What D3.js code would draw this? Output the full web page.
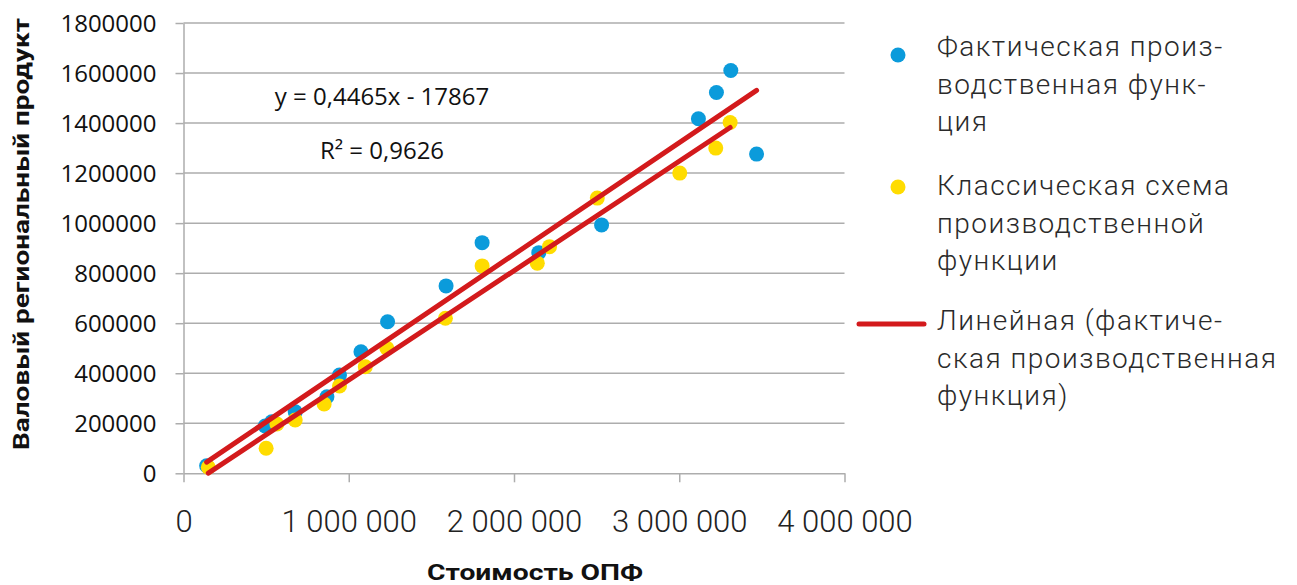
<!DOCTYPE html>
<html>
<head>
<meta charset="utf-8">
<script src="https://cdn.jsdelivr.net/npm/d3@7"></script>
<style>
  html, body { margin: 0; padding: 0; background: #fff; }
  svg { display: block; }
</style>
</head>
<body>
<svg id="chart" width="1297" height="585"></svg>
<script>
// Axis ticks
const xTickValues = [0, 1000000, 2000000, 3000000, 4000000];
const xTickLabels = ["0", "1 000 000", "2 000 000", "3 000 000", "4 000 000"];
const yTickValues = [0, 200000, 400000, 600000, 800000, 1000000, 1200000, 1400000, 1600000, 1800000];

// Фактическая производственная функция: стоимость ОПФ и ВРП
const factX = [140000, 494000, 534000, 676000, 868000, 944000, 1074000, 1235000,
               1589000, 1807000, 2150000, 2530000, 3116000, 3225000, 3312000, 3468000];
const factY = [30000, 189000, 206000, 246000, 306000, 393000, 486000, 606000,
               749000, 922000, 882000, 993000, 1417000, 1522000, 1610000, 1276000];

// Классическая схема производственной функции
const classicX = [150000, 500000, 565000, 676000, 851000, 944000, 1100000, 1231000,
                  1585000, 1807000, 2141000, 2215000, 2504000, 3003000, 3221000, 3308000];
const classicY = [24000, 100000, 197000, 213000, 277000, 349000, 426000, 500000,
                  620000, 829000, 840000, 906000, 1100000, 1200000, 1300000, 1402000];

// Linear trends: [slope, intercept]
const factTrend = [0.4465, -17867];
const classicTrend = [0.4375, -65000];

const equationText = "y = 0,4465x - 17867";
const r2Text = "R² = 0,9626";

const legendLabels = [
  ["Фактическая произ-", "водственная функ-", "ция"],
  ["Классическая схема", "производственной", "функции"],
  ["Линейная (фактиче-", "ская производственная", "функция)"]
];

const BLUE = "#0B9BDB", YELLOW = "#FFDC00", RED = "#D31A1C", GRID = "#ADADAD";
const lightFont = "Roboto, 'Open Sans', sans-serif";
const plainFont = "'Open Sans', 'Noto Sans', sans-serif";

const svg = d3.select("#chart");
svg.append("rect").attr("width", 1297).attr("height", 585).attr("fill", "#fff");

const x = d3.scaleLinear().domain([0, 4000000]).range([183.5, 844.5]);
const y = d3.scaleLinear().domain([0, 1800000]).range([473.3, 23]);

// Horizontal gridlines
svg.append("g").selectAll("line")
  .data(yTickValues.filter(d => d > 0))
  .join("line")
  .attr("x1", x(0)).attr("x2", x(4000000))
  .attr("y1", d => y(d)).attr("y2", d => y(d))
  .attr("stroke", GRID).attr("stroke-width", 1.5);

// Y axis
const yAxis = svg.append("g")
  .attr("transform", `translate(${x(0)},0)`)
  .call(d3.axisLeft(y).tickValues(yTickValues).tickFormat(d3.format("d"))
        .tickSize(8).tickPadding(19).tickSizeOuter(0));
yAxis.select(".domain").attr("stroke", GRID).attr("stroke-width", 1.5);
yAxis.selectAll(".tick line").attr("stroke", GRID).attr("stroke-width", 1.5);
yAxis.selectAll(".tick text")
  .attr("font-family", plainFont).attr("font-size", 24).attr("fill", "#111")
  .attr("dy", "0.36em");

// X axis
const xAxis = svg.append("g")
  .attr("transform", `translate(0,${y(0)})`)
  .call(d3.axisBottom(x).tickValues(xTickValues).tickFormat((d, i) => xTickLabels[i])
        .tickSize(9).tickSizeOuter(0));
xAxis.select(".domain").attr("stroke", GRID).attr("stroke-width", 1.5);
xAxis.selectAll(".tick line").attr("stroke", GRID).attr("stroke-width", 1.5);
xAxis.selectAll(".tick text")
  .attr("font-family", lightFont).attr("font-weight", 300).attr("font-size", 31)
  .attr("fill", "#222").attr("y", 59).attr("dy", 0);

// Scatter series
const fact = factX.map((v, i) => [v, factY[i]]);
const classic = classicX.map((v, i) => [v, classicY[i]]);

svg.append("g").selectAll("circle").data(fact).join("circle")
  .attr("cx", d => x(d[0])).attr("cy", d => y(d[1])).attr("r", 7.5).attr("fill", BLUE);
svg.append("g").selectAll("circle").data(classic).join("circle")
  .attr("cx", d => x(d[0])).attr("cy", d => y(d[1])).attr("r", 7.5).attr("fill", YELLOW);

// Trend lines over each series' range
function trendLine(xs, coef) {
  const ext = d3.extent(xs);
  return ext.map(v => [v, coef[0] * v + coef[1]]);
}
const line = d3.line().x(d => x(d[0])).y(d => y(d[1]));
[[factX, factTrend], [classicX, classicTrend]].forEach(([xs, coef]) => {
  svg.append("path").datum(trendLine(xs, coef))
    .attr("d", line).attr("fill", "none")
    .attr("stroke", RED).attr("stroke-width", 5).attr("stroke-linecap", "round");
});

// Regression equation
svg.append("text").attr("x", 382).attr("y", 105).attr("text-anchor", "middle")
  .attr("font-family", plainFont).attr("font-size", 24).attr("fill", "#111")
  .text(equationText);
svg.append("text").attr("x", 382).attr("y", 159).attr("text-anchor", "middle")
  .attr("font-family", plainFont).attr("font-size", 24).attr("fill", "#111")
  .text(r2Text);

// Axis titles
svg.append("text").attr("x", 535).attr("y", 580).attr("text-anchor", "middle")
  .attr("font-family", "Roboto, 'Liberation Sans', sans-serif").attr("font-weight", 700)
  .attr("font-size", 22).attr("fill", "#111")
  .attr("textLength", 216).attr("lengthAdjust", "spacingAndGlyphs")
  .text("Стоимость ОПФ");
svg.append("text").attr("transform", "translate(29,234) rotate(-90)")
  .attr("text-anchor", "middle")
  .attr("font-family", "Roboto, 'Liberation Sans', sans-serif").attr("font-weight", 700)
  .attr("font-size", 22).attr("fill", "#111")
  .attr("textLength", 432).attr("lengthAdjust", "spacingAndGlyphs")
  .text("Валовый региональный продукт");

// Legend
const legend = svg.append("g");
const legendTop = [56, 195, 330];
const lineGap = 37.5;
legend.append("circle").attr("cx", 898).attr("cy", 55).attr("r", 7.5).attr("fill", BLUE);
legend.append("circle").attr("cx", 898).attr("cy", 187).attr("r", 7.5).attr("fill", YELLOW);
legend.append("line").attr("x1", 859).attr("x2", 924).attr("y1", 324).attr("y2", 324)
  .attr("stroke", RED).attr("stroke-width", 5).attr("stroke-linecap", "round");
legendLabels.forEach((lines, i) => {
  const t = legend.append("text")
    .attr("font-family", lightFont).attr("font-weight", 300)
    .attr("font-size", 28).attr("letter-spacing", 1.5).attr("fill", "#2a2a2a");
  lines.forEach((s, j) => {
    t.append("tspan").attr("x", 937).attr("y", legendTop[i] + j * lineGap).text(s);
  });
});
</script>
</body>
</html>
